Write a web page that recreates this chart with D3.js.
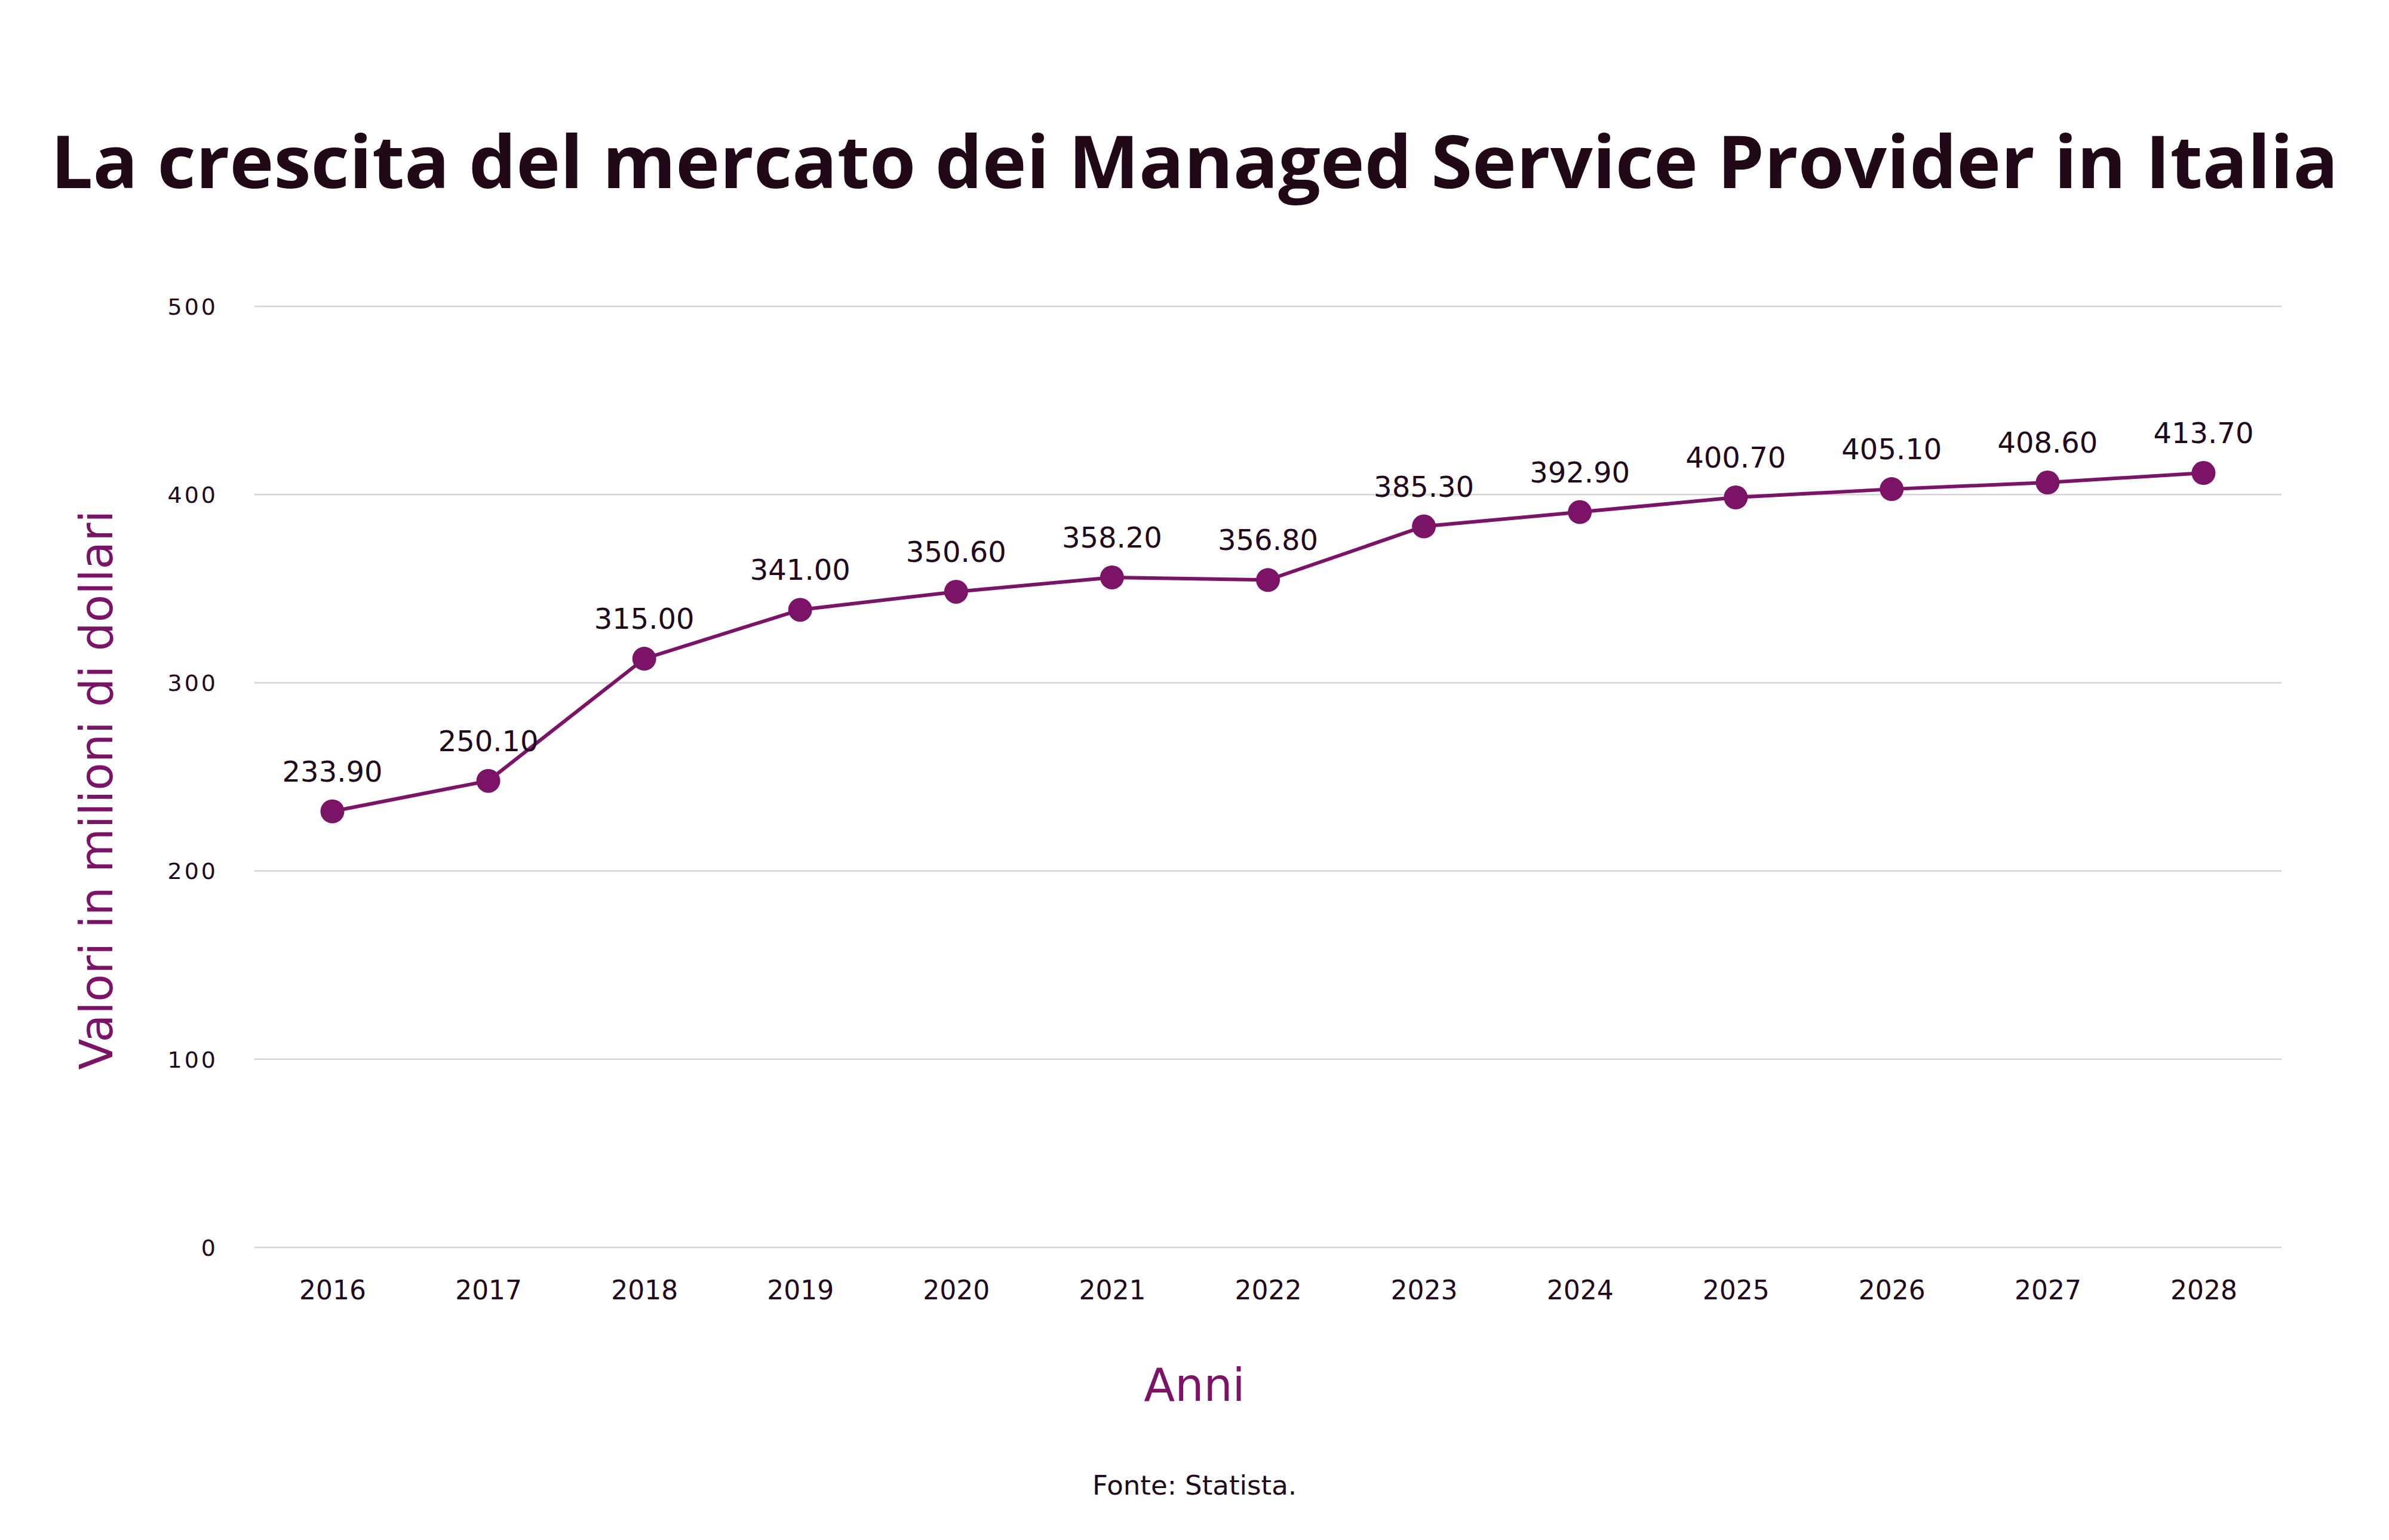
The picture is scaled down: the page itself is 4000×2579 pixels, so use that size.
<!DOCTYPE html>
<html>
<head>
<meta charset="utf-8">
<script src="https://cdn.jsdelivr.net/npm/d3@7"></script>
<style>
  html, body { margin: 0; padding: 0; background: #ffffff; }
  svg { display: block; }
</style>
</head>
<body>
<script>
const years = ["2016","2017","2018","2019","2020","2021","2022","2023","2024","2025","2026","2027","2028"];
const values = [233.9, 250.1, 315.0, 341.0, 350.6, 358.2, 356.8, 385.3, 392.9, 400.7, 405.1, 408.6, 413.7];
const yTicks = [0, 100, 200, 300, 400, 500];
const titleText = "La crescita del mercato dei Managed Service Provider in Italia";
const yAxisTitle = "Valori in milioni di dollari";
const xAxisTitle = "Anni";
const sourceText = "Fonte: Statista.";

const W = 4000, H = 2579;
const purple = "#7b1467";
const dark = "#22091c";
const font = "'DejaVu Sans', sans-serif";

const svg = d3.select("body").append("svg").attr("width", W).attr("height", H);
svg.append("rect").attr("width", W).attr("height", H).attr("fill", "#fff");

const x = d3.scalePoint().domain(years).range([426, 3820]).padding(0.5);
const y = d3.scaleLinear().domain([0, 500]).range([2089, 513]);

// gridlines
svg.append("g").selectAll("line").data(yTicks).join("line")
  .attr("x1", 426).attr("x2", 3820)
  .attr("y1", d => y(d)).attr("y2", d => y(d))
  .attr("stroke", "#d6d2d6").attr("stroke-width", 2.5);

// y axis labels
const yAxis = d3.axisLeft(y).tickValues(yTicks).tickSize(0).tickPadding(0).tickFormat(d3.format("d"));
const gy = svg.append("g").attr("transform", "translate(365,0)").call(yAxis);
gy.select(".domain").remove();
gy.selectAll("text").attr("font-family", font).attr("font-size", 38).attr("fill", dark)
  .attr("letter-spacing", 4).attr("dy", "0.35em");

// x axis labels
const xAxis = d3.axisBottom(x).tickSize(0).tickPadding(0);
const gx = svg.append("g").attr("transform", "translate(0,2176)").call(xAxis);
gx.select(".domain").remove();
gx.selectAll("text").attr("font-family", font).attr("font-size", 44).attr("fill", dark).attr("dy", 0);

const data = years.map((yr, i) => ({ yr, v: values[i] }));

// plot group (slight vertical offset matching reference rendering)
const plot = svg.append("g").attr("transform", "translate(0,7)");

// line
plot.append("path").datum(data)
  .attr("fill", "none").attr("stroke", purple).attr("stroke-width", 6)
  .attr("d", d3.line().x(d => x(d.yr)).y(d => y(d.v)));

// points
plot.append("g").selectAll("circle").data(data).join("circle")
  .attr("cx", d => x(d.yr)).attr("cy", d => y(d.v)).attr("r", 20).attr("fill", purple);

// data labels
plot.append("g").selectAll("text").data(data).join("text")
  .attr("x", d => x(d.yr)).attr("y", d => y(d.v) - 50)
  .attr("text-anchor", "middle").attr("font-family", font).attr("font-size", 48)
  .attr("fill", dark).text(d => d3.format(".2f")(d.v));

// title
svg.append("text").attr("x", 2000).attr("y", 315).attr("text-anchor", "middle")
  .attr("font-family", "'Open Sans', sans-serif").attr("font-weight", "bold").attr("font-size", 122)
  .attr("fill", "#200816").attr("textLength", 3830).attr("lengthAdjust", "spacingAndGlyphs")
  .text(titleText);

// y axis title
svg.append("text").attr("transform", "translate(188,1323) rotate(-90)")
  .attr("text-anchor", "middle").attr("font-family", font).attr("font-size", 76)
  .attr("fill", purple).text(yAxisTitle);

// x axis title
svg.append("text").attr("x", 2000).attr("y", 2346).attr("text-anchor", "middle")
  .attr("font-family", font).attr("font-size", 76).attr("fill", purple).text(xAxisTitle);

// source
svg.append("text").attr("x", 2000).attr("y", 2503).attr("text-anchor", "middle")
  .attr("font-family", font).attr("font-size", 45).attr("fill", dark).text(sourceText);
</script>
</body>
</html>
